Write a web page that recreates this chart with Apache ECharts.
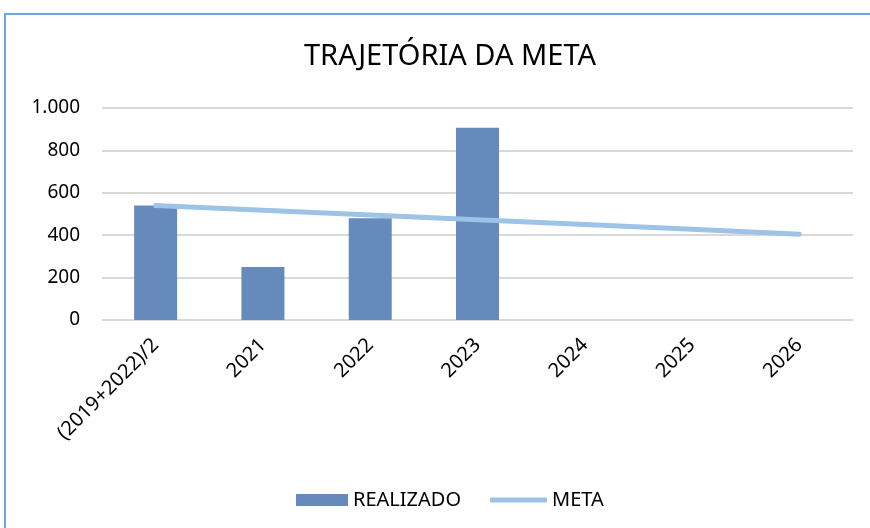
<!DOCTYPE html>
<html>
<head>
<meta charset="utf-8">
<script src="https://cdn.jsdelivr.net/npm/echarts@6/dist/echarts.min.js"></script>
<style>
	body { margin: 0; background: #fff; }
	.frame {
		position: absolute;
		left: 4px;
		top: 13px;
		width: 900px;
		height: 600px;
		border: 2px solid #6ea6dd;
	}
	#draw {
		position: absolute;
		left: 0;
		top: 0;
		width: 870px;
		height: 528px;
	}
</style>
</head>
<body>
<div class="frame"></div>
<div id="draw"></div>
<script>
	var categorias = ['(2019+2022)/2', '2021', '2022', '2023', '2024', '2025', '2026'];
	var realizado = [540, 250, 480, 907, null, null, null];
	var meta = [540, 517.5, 495, 472.5, 450, 427.5, 405];
	var fonte = '"Noto Sans", sans-serif';

	var myChart = echarts.init(document.getElementById('draw'));
	myChart.setOption({
		animation: false,
		title: {
			text: 'TRAJETÓRIA DA META',
			left: 299,
			top: 37,
			textStyle: {
				fontFamily: fonte,
				fontSize: 29,
				fontWeight: 'normal',
				color: '#000'
			}
		},
		grid: {
			top: 108,
			bottom: 208,
			left: 102,
			right: 17
		},
		legend: [{
			top: 485,
			left: 291,
			itemWidth: 52,
			itemHeight: 12,
			icon: 'rect',
			textStyle: {
				fontFamily: fonte,
				fontSize: 20,
				color: '#000'
			},
			data: ['REALIZADO']
		}, {
			top: 485,
			left: 485,
			itemWidth: 57,
			itemHeight: 5,
			icon: 'roundRect',
			textStyle: {
				fontFamily: fonte,
				fontSize: 20,
				color: '#000'
			},
			data: ['META']
		}],
		xAxis: {
			type: 'category',
			data: categorias,
			axisLine: {
				show: false
			},
			axisTick: {
				show: false
			},
			axisLabel: {
				rotate: 45,
				margin: 22,
				fontFamily: fonte,
				fontSize: 20,
				color: '#000'
			}
		},
		yAxis: {
			type: 'value',
			min: 0,
			max: 1000,
			interval: 200,
			axisLine: {
				show: false
			},
			axisTick: {
				show: false
			},
			axisLabel: {
				margin: 22,
				fontFamily: fonte,
				fontSize: 19,
				color: '#000',
				formatter: function(v) {
					return v >= 1000 ? (v / 1000) + '.' + String(v % 1000).padStart(3, '0') : v;
				}
			},
			splitLine: {
				lineStyle: {
					color: '#d9d9d9',
					width: 2
				}
			}
		},
		series: [{
			name: 'REALIZADO',
			type: 'bar',
			data: realizado,
			barWidth: 43,
			itemStyle: {
				color: '#678abd'
			}
		}, {
			name: 'META',
			type: 'line',
			data: meta,
			symbol: 'none',
			lineStyle: {
				color: '#9dc3e6',
				width: 5,
				cap: 'round'
			},
			itemStyle: {
				color: '#9dc3e6'
			}
		}]
	});
</script>
</body>
</html>
